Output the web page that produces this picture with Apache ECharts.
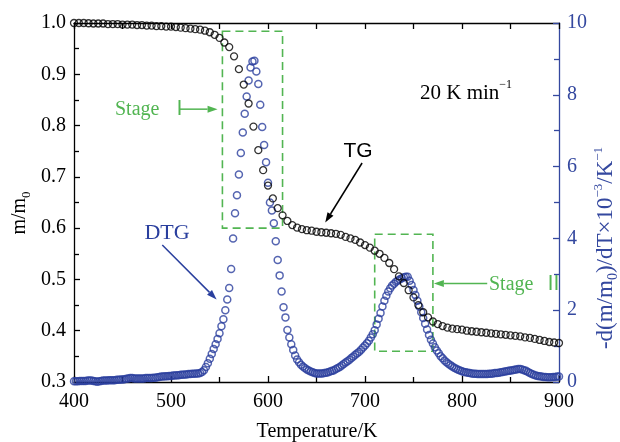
<!DOCTYPE html>
<html>
<head>
<meta charset="utf-8">
<script src="https://cdn.jsdelivr.net/npm/echarts@6/dist/echarts.min.js"></script>
<style>
  html, body { margin: 0; padding: 0; background: #fff; }
  #chart { width: 620px; height: 442px; }
</style>
</head>
<body>
<div id="chart"></div>
<script>
// Temperature range and axis ticks
const tempRange = [400, 900];
const tempTickStep = 100;
const massRange = [0.3, 1.0];
const massTickStep = 0.1;
const rateRange = [0, 10];
const rateTickStep = 2;

// TG curve: m/m0, sampled every 5 K from 400 K
const tgStart = 400;
const tgStep = 5;
const tgValues = [
  1.000, 1.000, 1.000, 0.9995, 0.999, 0.999, 0.999, 0.998, 0.998, 0.998,   // 400-445
  0.997, 0.997, 0.997, 0.996, 0.996, 0.995, 0.995, 0.994, 0.994, 0.993,    // 450-495
  0.993, 0.992, 0.991, 0.990, 0.989, 0.988, 0.987, 0.985, 0.982, 0.977,    // 500-545
  0.971, 0.962, 0.953, 0.935, 0.910, 0.880, 0.843, 0.798, 0.752, 0.713,    // 550-595
  0.683, 0.658, 0.639, 0.625, 0.614, 0.606, 0.601, 0.598, 0.596, 0.595,    // 600-645
  0.593, 0.592, 0.591, 0.590, 0.589, 0.587, 0.583, 0.580, 0.577, 0.572,    // 650-695
  0.567, 0.562, 0.556, 0.550, 0.542, 0.532, 0.520, 0.506, 0.493, 0.479,    // 700-745
  0.465, 0.450, 0.436, 0.426, 0.418, 0.413, 0.409, 0.406, 0.404, 0.403,    // 750-795
  0.402, 0.400, 0.399, 0.398, 0.397, 0.396, 0.395, 0.394, 0.393, 0.392,    // 800-845
  0.391, 0.390, 0.389, 0.387, 0.386, 0.384, 0.382, 0.380, 0.378, 0.377,    // 850-895
  0.376                                                                    // 900
];

// DTG curve: -d(m/m0)/dT x 10^-3 /K, sampled every 2 K from 400 K
const dtgStart = 400;
const dtgStep = 2;
const dtgValues = [
  0.02, 0.02, 0.02, 0.03, 0.03, 0.03, 0.03, 0.04, 0.04, 0.04,   // 400-418
  0.03, 0.02, 0.01, 0.02, 0.03, 0.04, 0.04, 0.04, 0.05, 0.05,   // 420-438
  0.05, 0.05, 0.06, 0.06, 0.07, 0.07, 0.08, 0.09, 0.10, 0.11,   // 440-458
  0.11, 0.10, 0.10, 0.10, 0.10, 0.10, 0.10, 0.11, 0.11, 0.11,   // 460-478
  0.11, 0.12, 0.12, 0.13, 0.14, 0.15, 0.15, 0.16, 0.16, 0.17,   // 480-498
  0.17, 0.18, 0.18, 0.19, 0.19, 0.20, 0.20, 0.21, 0.21, 0.22,   // 500-518
  0.22, 0.23, 0.23, 0.24, 0.24, 0.25, 0.28, 0.33, 0.42, 0.52,   // 520-538
  0.65, 0.78, 0.92, 1.05, 1.20, 1.36, 1.55, 1.75, 2.00, 2.30,   // 540-558
  2.62, 3.15, 4.00, 4.70, 5.20, 5.78, 6.38, 6.95, 7.47, 7.95,   // 560-578
  8.40, 8.76, 8.93, 8.95, 8.65, 8.30, 7.72, 7.10, 6.60, 6.12,   // 580-598
  5.55, 5.00, 4.78, 4.42, 3.92, 3.40, 2.97, 2.52, 2.08, 1.80,   // 600-618
  1.45, 1.24, 1.05, 0.89, 0.74, 0.63, 0.55, 0.48, 0.43, 0.39,   // 620-638
  0.35, 0.32, 0.29, 0.27, 0.25, 0.24, 0.24, 0.24, 0.24, 0.25,   // 640-658
  0.26, 0.27, 0.29, 0.31, 0.33, 0.36, 0.39, 0.42, 0.46, 0.50,   // 660-678
  0.54, 0.58, 0.62, 0.67, 0.71, 0.76, 0.80, 0.84, 0.90, 0.96,   // 680-698
  1.02, 1.08, 1.15, 1.24, 1.33, 1.44, 1.60, 1.76, 1.92, 2.10,   // 700-718
  2.26, 2.40, 2.52, 2.61, 2.69, 2.74, 2.79, 2.83, 2.86, 2.89,   // 720-738
  2.92, 2.93, 2.93, 2.82, 2.70, 2.56, 2.42, 2.26, 2.10, 1.94,   // 740-758
  1.78, 1.62, 1.46, 1.31, 1.18, 1.07, 0.97, 0.88, 0.80, 0.72,   // 760-778
  0.66, 0.60, 0.55, 0.51, 0.47, 0.43, 0.40, 0.37, 0.34, 0.32,   // 780-798
  0.30, 0.28, 0.27, 0.26, 0.25, 0.24, 0.23, 0.23, 0.22, 0.22,   // 800-818
  0.22, 0.22, 0.22, 0.22, 0.23, 0.23, 0.24, 0.25, 0.25, 0.26,   // 820-838
  0.27, 0.28, 0.29, 0.30, 0.31, 0.32, 0.33, 0.34, 0.35, 0.36,   // 840-858
  0.36, 0.35, 0.33, 0.31, 0.28, 0.25, 0.22, 0.20, 0.18, 0.17,   // 860-878
  0.16, 0.15, 0.14, 0.14, 0.13, 0.13, 0.13, 0.14, 0.14, 0.15,   // 880-898
  0.15                                                          // 900
];

// Stage windows (temperature span, m/m0 span)
const stageOneBox = { t: [553, 615], m: [0.600, 0.984] };
const stageTwoBox = { t: [710, 770], m: [0.360, 0.588] };

const BLACK = '#000000';
const BLUE = '#2a3f9e';
const AXIS_BLUE = '#34489f';
const GREEN = '#52b552';
const SERIF = '"Liberation Serif", "Times New Roman", serif';
const SANS = '"Liberation Sans", Arial, sans-serif';

const tgData = tgValues.map((v, i) => [tgStart + i * tgStep, v]);
const dtgData = dtgValues.map((v, i) => [dtgStart + i * dtgStep, v]);

const chart = echarts.init(document.getElementById('chart'), null, { renderer: 'canvas' });

function xAxisBase(position, showLabel, interval, minor) {
  return {
    type: 'value', position: position,
    min: tempRange[0], max: tempRange[1], interval: interval,
    axisLine: { show: true, onZero: false, lineStyle: { color: BLACK, width: 1.3 } },
    axisTick: { show: true, inside: true, length: 6, lineStyle: { color: BLACK, width: 1.3 } },
    minorTick: { show: minor, splitNumber: 2, length: 5, lineStyle: { color: BLACK, width: 1.3 } },
    splitLine: { show: false }, minorSplitLine: { show: false },
    axisLabel: { show: showLabel, color: BLACK, fontFamily: SERIF, fontSize: 20, margin: 10 }
  };
}

const option = {
  animation: false,
  backgroundColor: '#ffffff',
  grid: { left: 74, right: 61, top: 23, bottom: 60, containLabel: false },
  xAxis: [
    xAxisBase('bottom', true, tempTickStep, true),
    xAxisBase('top', false, tempTickStep / 2, false)
  ],
  yAxis: [
    {
      type: 'value', position: 'left',
      min: massRange[0], max: massRange[1], interval: massTickStep,
      axisLine: { show: true, onZero: false, lineStyle: { color: BLACK, width: 1.3 } },
      axisTick: { show: true, inside: true, length: 6, lineStyle: { color: BLACK, width: 1.3 } },
      minorTick: { show: true, splitNumber: 2, length: 5, lineStyle: { color: BLACK, width: 1.3 } },
      splitLine: { show: false }, minorSplitLine: { show: false },
      axisLabel: {
        color: BLACK, fontFamily: SERIF, fontSize: 20, margin: 8,
        formatter: v => v.toFixed(1)
      }
    },
    {
      type: 'value', position: 'right',
      min: rateRange[0], max: rateRange[1], interval: rateTickStep,
      axisLine: { show: true, onZero: false, lineStyle: { color: AXIS_BLUE, width: 1.3 } },
      axisTick: { show: true, inside: true, length: 6, lineStyle: { color: AXIS_BLUE, width: 1.3 } },
      minorTick: { show: true, splitNumber: 2, length: 5, lineStyle: { color: AXIS_BLUE, width: 1.3 } },
      splitLine: { show: false }, minorSplitLine: { show: false },
      axisLabel: { color: AXIS_BLUE, fontFamily: SERIF, fontSize: 20, margin: 8 }
    }
  ],
  series: [
    {
      name: 'DTG', type: 'scatter', xAxisIndex: 0, yAxisIndex: 1,
      data: dtgData, symbol: 'circle', symbolSize: 7,
      itemStyle: { color: 'rgba(255,255,255,0)', borderColor: BLUE, borderWidth: 1.5 },
      emphasis: { disabled: true }, silent: true
    },
    {
      name: 'TG', type: 'scatter', xAxisIndex: 0, yAxisIndex: 0,
      data: tgData, symbol: 'circle', symbolSize: 7,
      itemStyle: { color: 'rgba(255,255,255,0)', borderColor: BLACK, borderWidth: 1.3 },
      emphasis: { disabled: true }, silent: true,
      markArea: {
        silent: true,
        itemStyle: { color: 'rgba(0,0,0,0)', borderColor: GREEN, borderWidth: 1.6, borderType: [8, 5] },
        data: [
          [{ xAxis: stageOneBox.t[0], yAxis: stageOneBox.m[1] }, { xAxis: stageOneBox.t[1], yAxis: stageOneBox.m[0] }],
          [{ xAxis: stageTwoBox.t[0], yAxis: stageTwoBox.m[1] }, { xAxis: stageTwoBox.t[1], yAxis: stageTwoBox.m[0] }]
        ]
      }
    }
  ]
};

chart.setOption(option);

// Annotation arrows, anchored in (temperature, m/m0) coordinates
const px = p => chart.convertToPixel({ xAxisIndex: 0, yAxisIndex: 0 }, p);

function arrow(fromData, toData, color, width) {
  const a = px(fromData), b = px(toData);
  const dx = b[0] - a[0], dy = b[1] - a[1];
  const len = Math.hypot(dx, dy);
  const ux = dx / len, uy = dy / len;
  const headLen = 10, headHalf = 3.5;
  const base = [b[0] - ux * headLen, b[1] - uy * headLen];
  return [
    { type: 'line', silent: true, z: 20,
      shape: { x1: a[0], y1: a[1], x2: base[0], y2: base[1] },
      style: { stroke: color, lineWidth: width } },
    { type: 'polygon', silent: true, z: 20,
      shape: { points: [b, [base[0] - uy * headHalf, base[1] + ux * headHalf], [base[0] + uy * headHalf, base[1] - ux * headHalf]] },
      style: { fill: color } }
  ];
}

function label(x, y, text, color, font, size, align) {
  return { type: 'text', x: x, y: y, silent: true, z: 20,
    style: { text: text, fill: color, fontFamily: font, fontSize: size, align: align || 'left', verticalAlign: 'middle' } };
}

const graphics = [].concat(
  arrow([509, 0.832], [548, 0.832], GREEN, 1.5),
  arrow([826, 0.492], [771, 0.492], GREEN, 1.5),
  arrow([697, 0.727], [659, 0.611], BLACK, 1.5),
  arrow([491, 0.567], [547, 0.461], BLUE, 1.5),
  [
    label(115, 110, 'Stage  \u2160', GREEN, SERIF + ', "Noto Sans CJK SC"', 20),
    label(489, 285, 'Stage  \u2161', GREEN, SERIF + ', "Noto Sans CJK SC"', 20),
    label(358, 151, 'TG', BLACK, SANS, 21, 'center'),
    label(167, 233, 'DTG', BLUE, SERIF, 22, 'center'),
    {
      type: 'text', x: 420, y: 93, silent: true, z: 20,
      style: {
        text: '{a|20 K min}{c|\u22121}', align: 'left', verticalAlign: 'middle',
        rich: {
          a: { fontFamily: SERIF, fontSize: 21, lineHeight: 28, fill: BLACK },
          c: { fontFamily: SERIF, fontSize: 12, lineHeight: 12, verticalAlign: 'top', fill: BLACK }
        }
      }
    },
    label(317, 432, 'Temperature/K', BLACK, SERIF, 20, 'center'),
    {
      type: 'text', x: 20, y: 213, rotation: Math.PI / 2, silent: true,
      style: {
        text: '{a|m/m}{b|0}', align: 'center', verticalAlign: 'middle',
        rich: {
          a: { fontFamily: SERIF, fontSize: 20, lineHeight: 26, fill: BLACK },
          b: { fontFamily: SERIF, fontSize: 13, lineHeight: 13, verticalAlign: 'bottom', fill: BLACK }
        }
      }
    },
    {
      type: 'text', x: 606, y: 248, rotation: Math.PI / 2, silent: true,
      style: {
        text: '{a|-d(m/m}{b|0}{a|)/dT\u00d710}{c|\u22123}{a|/K}{c|\u22121}', align: 'center', verticalAlign: 'middle',
        rich: {
          a: { fontFamily: SERIF, fontSize: 23, lineHeight: 28, fill: AXIS_BLUE },
          b: { fontFamily: SERIF, fontSize: 14, lineHeight: 14, verticalAlign: 'bottom', fill: AXIS_BLUE },
          c: { fontFamily: SERIF, fontSize: 13, lineHeight: 13, verticalAlign: 'top', fill: AXIS_BLUE }
        }
      }
    }
  ]
);

chart.setOption({ graphic: graphics });
</script>
</body>
</html>
